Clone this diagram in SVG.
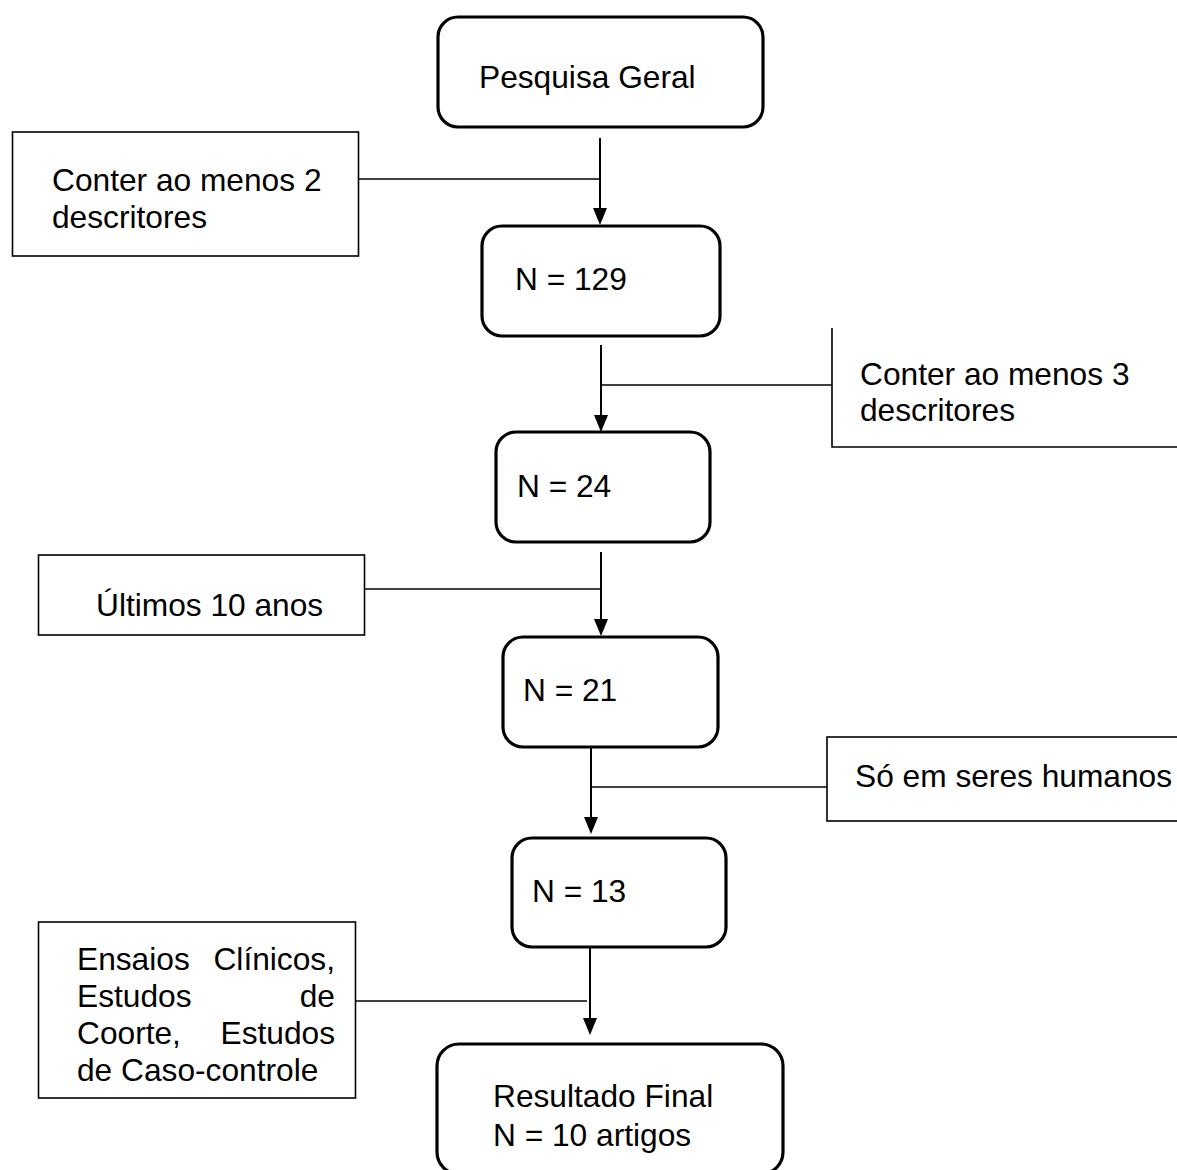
<svg xmlns="http://www.w3.org/2000/svg" width="1177" height="1170" viewBox="0 0 1177 1170">
<style>
.node{fill:#fff;stroke:#000;stroke-width:3.2}
.box{fill:#fff;stroke:#000;stroke-width:1.6}
.t{font-family:"Liberation Sans",Arial,sans-serif;font-size:31.7px;fill:#000}
.ln{stroke:#000;stroke-width:1.5;fill:none}
.ar{stroke:#000;stroke-width:2;fill:none}
</style>
<rect width="1177" height="1170" fill="#fff"/>
<g id="connectors">
<line class="ar" x1="600" y1="138" x2="600" y2="208"/>
<path d="M593,208 L607,208 L600,225 Z"/>
<line class="ar" x1="601" y1="345" x2="601" y2="415"/>
<path d="M594,415 L608,415 L601,432 Z"/>
<line class="ar" x1="601" y1="552" x2="601" y2="619"/>
<path d="M594,619 L608,619 L601,636 Z"/>
<line class="ar" x1="591" y1="747" x2="591" y2="817"/>
<path d="M584,817 L598,817 L591,834 Z"/>
<line class="ar" x1="590" y1="948" x2="590" y2="1018"/>
<path d="M583,1018 L597,1018 L590,1035 Z"/>
<line class="ln" x1="359" y1="179" x2="600" y2="179"/>
<line class="ln" x1="601" y1="385" x2="832" y2="385"/>
<line class="ln" x1="364" y1="589" x2="601" y2="589"/>
<line class="ln" x1="591" y1="787" x2="827" y2="787"/>
<line class="ln" x1="355" y1="1001" x2="587" y2="1001"/>
</g>
<g id="n1"><rect class="node" x="438" y="17" width="325" height="110" rx="20"/><text class="t" x="479" y="88">Pesquisa Geral</text></g>
<g id="c1"><rect class="box" x="12.5" y="132" width="346" height="124"/><text class="t" x="52" y="191">Conter ao menos 2</text><text class="t" x="52" y="228">descritores</text></g>
<g id="n2"><rect class="node" x="482" y="226" width="238" height="110" rx="20"/><text class="t" x="515" y="290">N = 129</text></g>
<g id="c2"><path class="box" d="M832,328 L832,447 L1190,447"/><text class="t" x="860" y="385">Conter ao menos 3</text><text class="t" x="860" y="421">descritores</text></g>
<g id="n3"><rect class="node" x="496" y="432" width="214" height="110" rx="20"/><text class="t" x="517" y="497">N = 24</text></g>
<g id="c3"><rect class="box" x="38.5" y="555" width="326" height="80"/><text class="t" x="96" y="616">Últimos 10 anos</text></g>
<g id="n4"><rect class="node" x="503" y="637" width="215" height="110" rx="20"/><text class="t" x="523" y="701">N = 21</text></g>
<g id="c4"><rect class="box" x="827" y="737" width="380" height="84"/><text class="t" x="855" y="787">Só em seres humanos</text></g>
<g id="n5"><rect class="node" x="512" y="838" width="214" height="109" rx="20"/><text class="t" x="532" y="902">N = 13</text></g>
<g id="c5"><rect class="box" x="38.5" y="922" width="317" height="176"/>
<text class="t" x="77" y="970">Ensaios</text><text class="t" x="335" y="970" text-anchor="end">Clínicos,</text>
<text class="t" x="77" y="1007">Estudos</text><text class="t" x="335" y="1007" text-anchor="end">de</text>
<text class="t" x="77" y="1044">Coorte,</text><text class="t" x="335" y="1044" text-anchor="end">Estudos</text>
<text class="t" x="77" y="1081">de Caso-controle</text></g>
<g id="n6"><rect class="node" x="437" y="1044" width="346" height="130" rx="22"/><text class="t" x="493" y="1107">Resultado Final</text><text class="t" x="493" y="1146">N = 10 artigos</text></g>
</svg>
